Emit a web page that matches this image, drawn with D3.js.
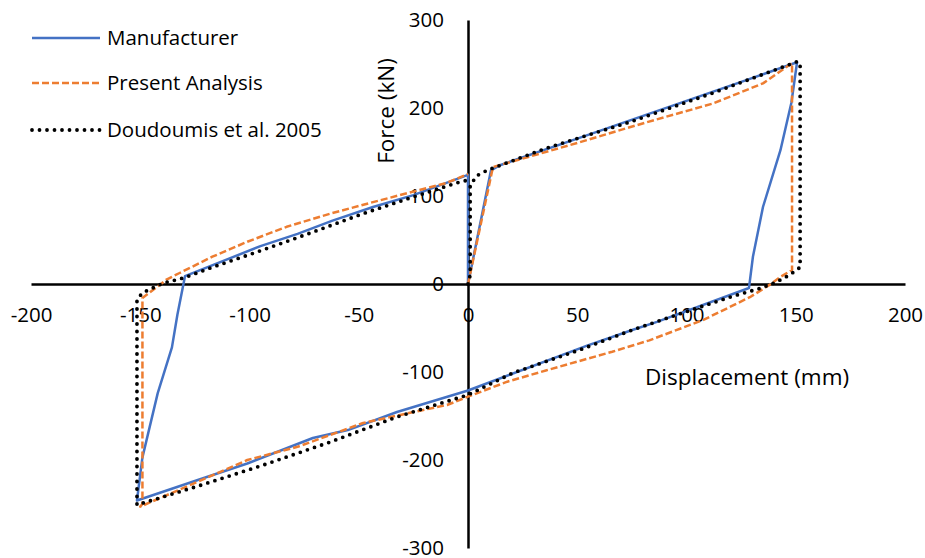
<!DOCTYPE html>
<html>
<head>
<meta charset="utf-8">
<script src="https://cdn.jsdelivr.net/npm/d3@7"></script>
<style>
  body { margin: 0; background: #fff; }
  text { font-family: "Open Sans", sans-serif; font-size: 20.5px; fill: #000; }
  .axis .domain { stroke: #000; stroke-width: 2.5; }
  .axis text { font-family: "Open Sans", sans-serif; font-size: 20.5px; fill: #000; }
  .title { font-size: 22.5px; }
</style>
</head>
<body>
<div id="chart"></div>
<script>
var w = 925,
    h = 558;

// displacement (mm), force (kN)
var manufacturerX = [0, 10.5, 14.6, 51, 97, 127.7, 150.6, 148, 143, 135, 130.4, 128.6, 86.5, 75.5, 54.5, 0,
  -32.5, -55, -71, -101, -124, -151.5, -149, -142, -135.5, -133, -129.5, -95, -78, -62, -43.5, -25, 0, 0];
var manufacturerY = [0, 129, 135, 166, 205.6, 232, 252, 206, 152, 87.5, 31, -4.5, -43, -52, -70, -121,
  -145.5, -166, -175, -204, -223, -246, -197, -124, -72, -35, 9, 43, 57, 72, 87.5, 101, 124, 0];

var presentX = [0, 11, 11.6, 51, 82, 112, 135, 148.3, 148.3, 143, 138, 129, 107.5, 83, 66, 36, 18, 0,
  -9.6, -25, -48, -78, -101, -124, -150, -149, -149, -138, -132, -117, -101, -83, -63, -43.5, -25, -9.6, 0];
var presentY = [0, 128, 133, 161, 184, 205, 228, 251, 16, 8, -1, -15, -41, -64, -77, -98, -111, -128,
  -137.5, -145.5, -158, -185, -200, -225, -253, -250, -16, 5, 12.5, 31, 48, 65, 80, 93, 105, 115, 125];

var doudoumisX = [0, 1, 1, 4, 9, 36, 74, 112, 151, 152, 152, 147, 141, 133.6, 121, 98, 75.5, 51, 20.6, 0,
  -32.5, -63, -94, -124, -151.5, -151.5, -149, -139.5, -130, -117, -94, -71, -48, -25, -3.7, 0];
var doudoumisY = [0, 10, 112, 123, 129.5, 154.5, 184, 217, 253, 250, 19, 10, 2, -5, -14, -33, -52, -75, -101, -126,
  -151, -179.5, -206, -230, -251, -18, -10, 1, 7, 19, 38.6, 59, 80, 99, 116, 118];

var seriesNames = ["Manufacturer", "Present Analysis", "Doudoumis et al. 2005"];
var xTicks = [-200, -150, -100, -50, 0, 50, 100, 150, 200];
var yTicks = [-300, -200, -100, 0, 100, 200, 300];

var series = [
  { name: seriesNames[0], xs: manufacturerX, ys: manufacturerY, color: "#4472C4", width: 2.5, dash: null, cap: "butt" },
  { name: seriesNames[1], xs: presentX, ys: presentY, color: "#ED7D31", width: 2.5, dash: "7,3", cap: "butt" },
  { name: seriesNames[2], xs: doudoumisX, ys: doudoumisY, color: "#000", width: 3.8, dash: "0,7.5", cap: "round" }
];

var x = d3.scaleLinear().domain([-200, 200]).range([31, 905]);
var y = d3.scaleLinear().domain([-300, 300]).range([548, 20]);

// plain hyphen for negatives, as in the original
var fmt = function(d) { return String(d); };

var svg = d3.select("#chart").append("svg")
    .attr("width", w)
    .attr("height", h);

// axes cross at the origin
svg.append("g")
    .attr("class", "axis")
    .attr("transform", "translate(0," + y(0) + ")")
    .call(d3.axisBottom(x).tickValues(xTicks).tickFormat(fmt).tickSize(0).tickPadding(23));

svg.append("g")
    .attr("class", "axis")
    .attr("transform", "translate(" + x(0) + ",0)")
    .call(d3.axisLeft(y).tickValues(yTicks).tickFormat(fmt).tickSize(0).tickPadding(24));

svg.selectAll(".axis").attr("font-size", null).attr("font-family", null);

var line = d3.line()
    .x(function(d) { return x(d[0]); })
    .y(function(d) { return y(d[1]); });

svg.selectAll("path.series")
    .data(series)
  .enter().append("path")
    .attr("class", "series")
    .attr("fill", "none")
    .attr("stroke", function(d) { return d.color; })
    .attr("stroke-width", function(d) { return d.width; })
    .attr("stroke-dasharray", function(d) { return d.dash; })
    .attr("stroke-linecap", function(d) { return d.cap; })
    .attr("stroke-linejoin", "round")
    .attr("d", function(d) { return line(d3.zip(d.xs, d.ys)); });

// axis titles
svg.append("text")
    .attr("class", "title")
    .attr("x", 645)
    .attr("y", 385)
    .text("Displacement (mm)");

svg.append("text")
    .attr("class", "title")
    .attr("text-anchor", "middle")
    .attr("transform", "translate(394,111) rotate(-90)")
    .text("Force (kN)");

// legend
var legend = svg.selectAll("g.legend")
    .data(series)
  .enter().append("g")
    .attr("class", "legend")
    .attr("transform", function(d, i) { return "translate(32," + [38, 83, 130][i] + ")"; });

legend.append("line")
    .attr("x1", 0)
    .attr("x2", 68)
    .attr("stroke", function(d) { return d.color; })
    .attr("stroke-width", function(d) { return d.width; })
    .attr("stroke-dasharray", function(d) { return d.dash; })
    .attr("stroke-linecap", function(d) { return d.cap; });

legend.append("text")
    .attr("x", 75)
    .attr("y", 7)
    .text(function(d) { return d.name; });
</script>
</body>
</html>
